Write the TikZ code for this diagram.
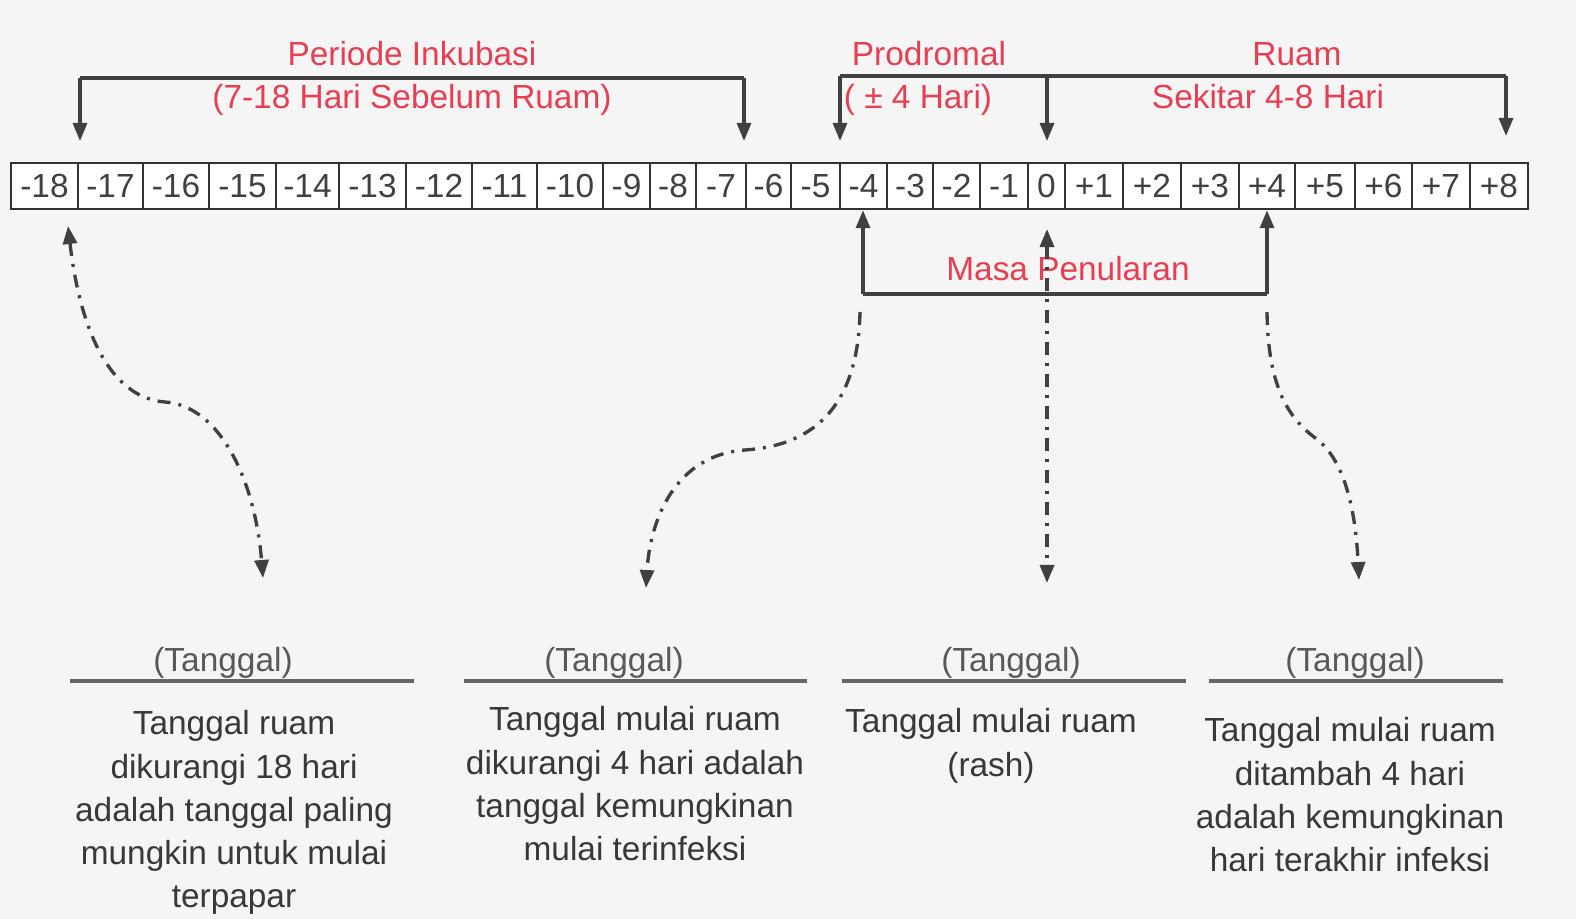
\documentclass[tikz,border=0pt]{standalone}
\usepackage{fontspec}
\setmainfont{Liberation Sans}
\usepackage{xcolor}
\usetikzlibrary{arrows.meta, calc}
\definecolor{labelred}{RGB}{232,62,82}

\begin{document}
\begin{tikzpicture}[x=0.01cm, y=-0.01cm,
    >={Triangle[length=1.8mm, width=1.4mm]},
    every node/.style={font=\fontsize{9.5}{12.3}\selectfont, align=center, inner sep=0pt},
    cell/.style={rectangle, draw=black!80, line width=0.7pt, fill=white,
                 minimum height=0.46cm, text=black!75},
    redlabel/.style={text=labelred, anchor=base},
    brace/.style={line width=0.9pt, draw=black!75},
    arr/.style={->, line width=0.9pt, draw=black!75},
    dotarr/.style={line width=0.95pt, draw=black!75,
                   dash pattern=on 1.3mm off 0.8mm on 0.3mm off 0.8mm},
    rule/.style={line width=1.3pt, draw=black!60},
    datehead/.style={text=black!65, anchor=base},
    note/.style={text=black!78, anchor=north}
]

\fill[black!4] (0,0) rectangle (1576,919);
\useasboundingbox (0,0) rectangle (1576,919);

% --- day strip ---
\foreach \i/\lbl/\xa/\xb in {%
  1/-18/11/78, 2/-17/78/143, 3/-16/143/209, 4/-15/209/276, 5/-14/276/339,
  6/-13/339/406, 7/-12/406/472, 8/-11/472/537, 9/-10/537/603, 10/-9/603/650,
  11/-8/650/696, 12/-7/696/746, 13/-6/746/791, 14/-5/791/840, 15/-4/840/887,
  16/-3/887/933, 17/-2/933/980, 18/-1/980/1028, 19/0/1028/1065, 20/+1/1065/1123,
  21/+2/1123/1181, 22/+3/1181/1239, 23/+4/1239/1295, 24/+5/1295/1355,
  25/+6/1355/1412, 26/+7/1412/1470, 27/+8/1470/1528} {
    \node[cell, minimum width={(\xb-\xa)*0.01cm}] (d\i) at ({(\xa+\xb)/2}, 186) {\lbl};
}

% --- top brackets ---
\coordinate (inkL) at (80,78);
\coordinate (inkR) at (744,78);
\coordinate (inkLt) at (80,141);
\coordinate (inkRt) at (744,141);
\draw[brace] (inkL) -- (inkR);
\draw[arr] (inkL) -- (inkLt);
\draw[arr] (inkR) -- (inkRt);

\coordinate (proL) at (840,76);
\coordinate (proM) at (1047,76);
\coordinate (proR) at (1506,76);
\coordinate (proLt) at (840,141);
\coordinate (proMt) at (1047,141);
\coordinate (proRt) at (1506,136);
\draw[brace] (proL) -- (proR);
\draw[arr] (proL) -- (proLt);
\draw[arr] (proM) -- (proMt);
\draw[arr] (proR) -- (proRt);

\node[redlabel] (lblInk)      at (412,66)  {Periode Inkubasi};
\node[redlabel] (lblInkDays)  at (412,109) {(7-18 Hari Sebelum Ruam)};
\node[redlabel] (lblPro)      at (929,66)  {Prodromal};
\node[redlabel] (lblProDays)  at (918,109) {( ± 4 Hari)};
\node[redlabel] (lblRuam)     at (1297,66) {Ruam};
\node[redlabel] (lblRuamDays) at (1268,109) {Sekitar 4-8 Hari};

% --- masa penularan ---
\coordinate (msL) at (863,294);
\coordinate (msR) at (1267,294);
\draw[brace] (msL) -- (msR);
\draw[arr] (msL) -- (msL |- d15.south);
\draw[arr] (msR) -- (msR |- d23.south);
\node[redlabel] (lblMasa) at (1068,281) {Masa Penularan};

% --- dashed pointers to the notes ---
\coordinate (c1a) at (68,226);
\coordinate (c1b) at (263,578);
\coordinate (c2a) at (860,312);
\coordinate (c2b) at (646,588);
\coordinate (c3a) at (1047,229);
\coordinate (c3b) at (1047,583);
\coordinate (c4a) at (1267,312);
\coordinate (c4b) at (1359,580);

\draw[dotarr, <->] (c1a) .. controls (80,330) and (110,398) .. (165,402)
                         .. controls (220,406) and (255,480) .. (c1b);
\draw[dotarr, ->] (c2a) .. controls (858,400) and (820,445) .. (745,450)
                        .. controls (675,455) and (650,520) .. (c2b);
\draw[dotarr, <->] (c3a) -- (c3b);
\draw[dotarr, ->] (c4a) .. controls (1268,390) and (1290,420) .. (1318,440)
                        .. controls (1348,465) and (1356,520) .. (c4b);

% --- date notes (bottom) ---
\foreach \i/\xa/\xb/\xh in {1/70/414/223, 2/464/807/614, 3/842/1186/1011, 4/1209/1503/1355} {
    \draw[rule] (\xa,681) -- (\xb,681);
    \node[datehead] (tgl\i) at (\xh,671) {(Tanggal)};
}

\node[note] (note1) at (234,710)
  {Tanggal ruam\\dikurangi 18 hari\\adalah tanggal paling\\mungkin untuk mulai\\terpapar};
\node[note] (note2) at (635,706)
  {Tanggal mulai ruam\\dikurangi 4 hari adalah\\tanggal kemungkinan\\mulai terinfeksi};
\node[note] (note3) at (991,708)
  {Tanggal mulai ruam\\(rash)};
\node[note] (note4) at (1350,717)
  {Tanggal mulai ruam\\ditambah 4 hari\\adalah kemungkinan\\hari terakhir infeksi};

\end{tikzpicture}
\end{document}
